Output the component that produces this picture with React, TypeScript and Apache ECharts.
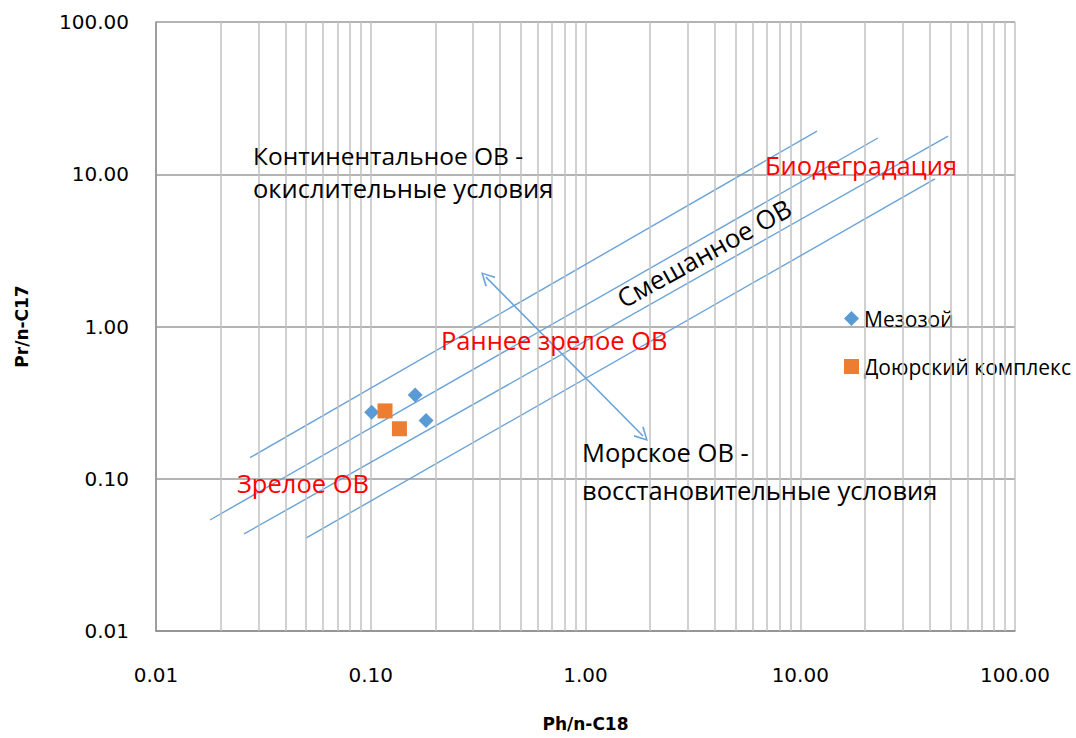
import React, { useEffect, useRef } from "react";
import * as echarts from "echarts";

// Scatter data
const mesozoicX = [0.101, 0.161, 0.181];
const mesozoicY = [0.273, 0.355, 0.241];
const preJurassicX = [0.1165, 0.136];
const preJurassicY = [0.279, 0.213];

// Boundary lines (start / end points, data units)
const line1 = [[0.0274, 0.1375], [11.97, 19.2]];
const line2 = [[0.01784, 0.0536], [23.0, 17.3]];
const line3 = [[0.0257, 0.0434], [48.8, 17.8]];
const line4 = [[0.0499, 0.0408], [42.4, 9.31]];

// Double arrow (data units)
const arrowStart = [0.344, 2.11];
const arrowEnd = [1.853, 0.191];

// Minor vertical gridlines
const minorGridX = [
  0.02, 0.03, 0.04, 0.05, 0.06, 0.07, 0.08, 0.09,
  0.2, 0.3, 0.4, 0.5, 0.6, 0.7, 0.8, 0.9,
  2, 3, 4, 5, 6, 7, 8, 9,
  20, 30, 40, 50, 60, 70, 80, 90,
];

const seriesNames = ["Мезозой", "Доюрский комплекс"];
const BLUE = "#5b9bd5";
const ORANGE = "#ed7d31";
const LINE_BLUE = "#6aa3d8";
const TXT = '"Open Sans", "DejaVu Sans", sans-serif';

export default function App() {
  const ref = useRef<HTMLDivElement>(null);
  useEffect(() => {
    if (!ref.current) return;
    const chart = echarts.init(ref.current, null, { renderer: "svg" });
    const zip = (xs: number[], ys: number[]) => xs.map((x, i) => [x, ys[i]]);
    const chevron = "path://M0,10 L5,0 L10,10 L9,10.8 L5,2.4 L1,10.8 Z";
    const boundary = [line1, line2, line3, line4].map((l, i) => ({
      name: "b" + i,
      type: "line",
      data: l,
      symbol: "none",
      silent: true,
      z: 3,
      lineStyle: { color: LINE_BLUE, width: 1.4 },
    }));
    const t = (text: string, x: number, y: number, size: number, fill: string, extra: any = {}) => ({
      type: "text",
      x,
      y,
      z: 10,
      ...extra,
      style: { text, font: `${size}px ${TXT}`, fill, verticalAlign: "middle", ...(extra.style || {}) },
    });
    const option: any = {
      animation: false,
      backgroundColor: "#ffffff",
      grid: { left: 156, right: 61, top: 22, bottom: 107, containLabel: false, outerBoundsMode: "none" },
      legend: {
        data: seriesNames,
        orient: "vertical",
        left: 839,
        top: 303,
        itemGap: 27,
        itemWidth: 15,
        itemHeight: 15,
        textStyle: { fontFamily: TXT, fontSize: 21, color: "#000" },
      },
      xAxis: {
        type: "log",
        logBase: 10,
        min: 0.01,
        max: 100,
        name: "Ph/n-C18",
        nameLocation: "middle",
        nameGap: 84,
        nameTextStyle: { fontFamily: "DejaVu Sans", fontWeight: "bold", fontSize: 17, color: "#000" },
        axisLine: { show: true, lineStyle: { color: "#8c8c8c", width: 1.5 } },
        axisTick: { show: false },
        axisLabel: {
          margin: 34,
          fontFamily: "DejaVu Sans",
          fontSize: 20,
          color: "#000",
          formatter: (v: number) => v.toFixed(2),
        },
        splitLine: { show: true, lineStyle: { color: "#c2c2c2", width: 1.5 } },
      },
      yAxis: {
        type: "log",
        logBase: 10,
        min: 0.01,
        max: 100,
        name: "Pr/n-C17",
        nameLocation: "middle",
        nameGap: 126,
        nameTextStyle: { fontFamily: "DejaVu Sans", fontWeight: "bold", fontSize: 17, color: "#000" },
        axisLine: { show: true, lineStyle: { color: "#8c8c8c", width: 1.5 } },
        axisTick: { show: false },
        axisLabel: {
          margin: 27,
          fontFamily: "DejaVu Sans",
          fontSize: 20,
          color: "#000",
          formatter: (v: number) => v.toFixed(2),
        },
        splitLine: { show: true, lineStyle: { color: "#9a9a9a", width: 1.5 } },
      },
      series: [
        {
          name: "grid",
          type: "line",
          data: [],
          silent: true,
          z: 1,
          markLine: {
            silent: true,
            symbol: ["none", "none"],
            label: { show: false },
            lineStyle: { color: "#c2c2c2", width: 1.5, type: "solid" },
            data: minorGridX.map((x) => ({ xAxis: x })),
          },
        },
        ...boundary,
        {
          name: "arrow",
          type: "line",
          data: [],
          silent: true,
          z: 3,
          markLine: {
            silent: true,
            symbol: [chevron, chevron],
            symbolSize: [14, 14],
            label: { show: false },
            lineStyle: { color: LINE_BLUE, width: 1.6, type: "solid" },
            data: [[{ coord: arrowStart }, { coord: arrowEnd }]],
          },
        },
        {
          name: seriesNames[0],
          type: "scatter",
          symbol: "diamond",
          symbolSize: 15,
          z: 5,
          itemStyle: { color: BLUE, opacity: 1 },
          data: zip(mesozoicX, mesozoicY),
        },
        {
          name: seriesNames[1],
          type: "scatter",
          symbol: "rect",
          symbolSize: 15,
          z: 6,
          itemStyle: { color: ORANGE, opacity: 1 },
          data: zip(preJurassicX, preJurassicY),
        },
      ],
      graphic: [
        t("Континентальное ОВ -", 253, 155, 24.5, "#000"),
        t("окислительные условия", 253, 188, 25.5, "#000"),
        t("Биодеградация", 765, 165, 25.5, "#ff0000"),
        t("Смешанное ОВ", 704, 253, 26, "#000", {
          rotation: (29 * Math.PI) / 180,
          style: { align: "center" },
        }),
        t("Раннее зрелое ОВ", 441, 340, 25.5, "#ff0000"),
        t("Зрелое ОВ", 237, 483, 25.5, "#ff0000"),
        t("Морское ОВ -", 582, 452, 25.5, "#000"),
        t("восстановительные условия", 582, 490, 25.5, "#000"),
      ],
    };
    chart.setOption(option);
    return () => chart.dispose();
  }, []);
  return (
    <div
      ref={ref}
      style={{ position: "fixed", left: 0, top: 0, width: 1076, height: 738, background: "#fff" }}
    />
  );
}
